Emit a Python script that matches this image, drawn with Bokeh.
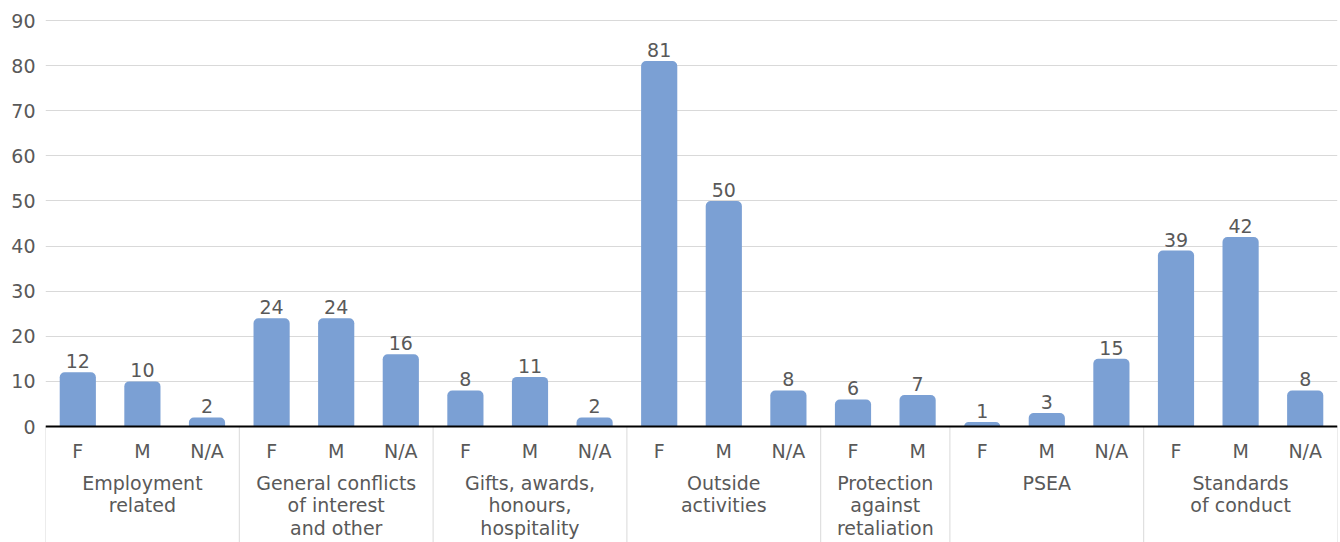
from bokeh.plotting import figure
from bokeh.models import FactorRange, Range1d, FixedTicker, ColumnDataSource, Span
from bokeh.core.properties import value
from bokeh.embed import file_html
from bokeh.resources import INLINE

# ---- data ----
groups = ["Employment related", "General conflicts of interest and other",
          "Gifts, awards, honours, hospitality", "Outside activities",
          "Protection against retaliation", "PSEA", "Standards of conduct"]
group_labels = ["Employment\nrelated", "General conflicts\nof interest\nand other",
                "Gifts, awards,\nhonours,\nhospitality", "Outside\nactivities",
                "Protection\nagainst\nretaliation", "PSEA", "Standards\nof conduct"]
subgroups = [["F", "M", "N/A"], ["F", "M", "N/A"], ["F", "M", "N/A"],
             ["F", "M", "N/A"], ["F", "M"], ["F", "M", "N/A"], ["F", "M", "N/A"]]
counts = [[12, 10, 2], [24, 24, 16], [8, 11, 2], [81, 50, 8], [6, 7], [1, 3, 15], [39, 42, 8]]
y_ticks = [0, 10, 20, 30, 40, 50, 60, 70, 80, 90]

FONT = "DejaVu Sans"
TEXT_COLOR = "#595959"
BAR_COLOR = "#7ba0d4"
GRID_COLOR = "#d9d9d9"

factors = [(g, s) for g, subs in zip(groups, subgroups) for s in subs]
vals = [v for vs in counts for v in vs]

W, H = 1340, 542
FRAME_LEFT = 45
Y0_PX = 426          # canvas y of value 0
Y90_PX = 20          # canvas y of value 90
PX = 90.0 / (Y0_PX - Y90_PX)   # data units per pixel
y_start = -(H - Y0_PX) * PX
y_end = 90 + Y90_PX * PX

p = figure(width=W, height=H, output_backend="svg", toolbar_location=None,
           x_range=FactorRange(factors=factors, factor_padding=0, subgroup_padding=0,
                               group_padding=0, range_padding=0),
           y_range=Range1d(y_start, y_end),
           min_border_left=FRAME_LEFT, min_border_right=3, min_border_top=0,
           min_border_bottom=0)
p.outline_line_color = None
p.xaxis.visible = False
p.xgrid.visible = False
p.ygrid.ticker = FixedTicker(ticks=y_ticks)
p.ygrid.grid_line_color = GRID_COLOR
p.ygrid.grid_line_width = 1

ya = p.yaxis[0]
ya.ticker = FixedTicker(ticks=y_ticks)
ya.axis_line_color = None
ya.major_tick_line_color = None
ya.minor_tick_line_color = None
ya.major_tick_out = 0
ya.major_tick_in = 0
ya.major_label_standoff = 10
ya.major_label_text_font = FONT
ya.major_label_text_font_size = "19px"
ya.major_label_text_color = TEXT_COLOR

src = ColumnDataSource(dict(x=factors, top=vals, label=[str(v) for v in vals]))
p.vbar(x="x", top="top", bottom=0, width=0.56, source=src, fill_color=BAR_COLOR,
       line_color=None, border_radius=(5, 5, 0, 0))

p.text(x="x", y="top", text="label", source=src, y_offset=-4,
       text_align="center", text_baseline="bottom",
       text_font=value(FONT), text_font_size="19px", text_color=TEXT_COLOR)

# zero line
p.add_layout(Span(location=0, dimension="width", line_color="black", line_width=1.8))

# sub-category labels
p.text(x=factors, y=[-24 * PX] * len(factors), text=[f[1] for f in factors],
       text_align="center", text_baseline="middle",
       text_font=value(FONT), text_font_size="19px", text_color=TEXT_COLOR)

# group labels and separators
centers = [(g, subs[0], (len(subs) - 1) / 2.0) for g, subs in zip(groups, subgroups)]
p.text(x=centers, y=[-45 * PX] * len(groups), text=group_labels,
       text_align="center", text_baseline="top", text_line_height=1.04,
       text_font=value(FONT), text_font_size="19px", text_color=TEXT_COLOR)

seps = [(g, subs[0], -0.5) for g, subs in zip(groups, subgroups)]
seps.append((groups[-1], subgroups[-1][-1], 0.5))
p.segment(x0=seps, x1=seps, y0=[0] * len(seps), y1=[y_start] * len(seps),
          line_color=GRID_COLOR, line_width=1)

open("out.html", "w").write(file_html(p, INLINE))
